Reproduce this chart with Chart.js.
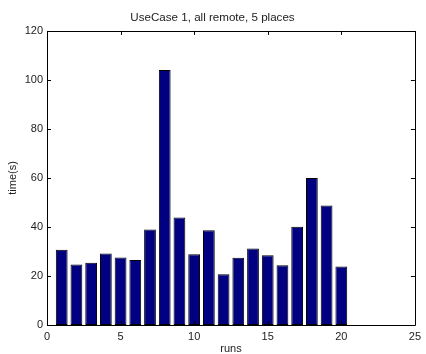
<!DOCTYPE html>
<html>
<head>
<meta charset="utf-8">
<script src="https://cdn.jsdelivr.net/npm/chart.js@4"></script>
<style>
  html, body { margin: 0; padding: 0; background: #fff; }
  #wrap { width: 426px; height: 354px; }
</style>
</head>
<body>
<div id="wrap"><canvas id="runsChart"></canvas></div>
<script>
// runs 1..20 and measured time in seconds
const runs = [1, 2, 3, 4, 5, 6, 7, 8, 9, 10, 11, 12, 13, 14, 15, 16, 17, 18, 19, 20];
const times = [30.7, 24.7, 25.4, 29.2, 27.5, 26.5, 39.0, 104.1, 43.9, 28.9,
               38.7, 20.7, 27.4, 31.2, 28.5, 24.4, 40.1, 60.0, 48.8, 23.9];
const xTicks = [0, 5, 10, 15, 20, 25];
const yTicks = [0, 20, 40, 60, 80, 100, 120];

const fontFamily = '"Liberation Sans", Arial, Helvetica, sans-serif';

// MATLAB-like box with inward tick marks
const boxPlugin = {
    id: 'matlabBox',
    afterDraw(chart) {
        const ctx = chart.ctx;
        const a = chart.chartArea;
        const xs = chart.scales.x;
        const ys = chart.scales.y;
        ctx.save();
        ctx.strokeStyle = '#000';
        ctx.lineWidth = 1;
        ctx.beginPath();
        ctx.rect(Math.round(a.left) + 0.5, Math.round(a.top) + 0.5,
                 Math.round(a.right - a.left), Math.round(a.bottom - a.top));
        const tl = 4;
        xTicks.forEach(v => {
            const px = Math.round(xs.getPixelForValue(v)) + 0.5;
            ctx.moveTo(px, a.bottom); ctx.lineTo(px, a.bottom - tl);
            ctx.moveTo(px, a.top); ctx.lineTo(px, a.top + tl);
        });
        yTicks.forEach(v => {
            const py = Math.round(ys.getPixelForValue(v)) + 0.5;
            ctx.moveTo(a.left, py); ctx.lineTo(a.left + tl, py);
            ctx.moveTo(a.right, py); ctx.lineTo(a.right - tl, py);
        });
        ctx.stroke();
        ctx.restore();
    }
};

const ctx = document.getElementById('runsChart').getContext('2d');
const runsChart = new Chart(ctx, {
    type: 'bar',
    data: {
        datasets: [{
            label: 'time(s)',
            data: runs.map((r, i) => ({ x: r, y: times[i] })),
            backgroundColor: '#000080',
            borderColor: '#000000',
            borderWidth: 1,
            borderSkipped: false,
            barPercentage: 0.8,
            categoryPercentage: 1.0
        }]
    },
    options: {
        responsive: true,
        maintainAspectRatio: false,
        animation: false,
        layout: { padding: { left: 6, right: 7, top: 0, bottom: 0 } },
        plugins: {
            legend: { display: false },
            tooltip: { enabled: false },
            title: {
                display: true,
                text: 'UseCase 1, all remote, 5 places',
                color: '#222',
                font: { family: fontFamily, size: 11.6, weight: 'normal', lineHeight: 1.2 },
                padding: { top: 11, bottom: 6 }
            }
        },
        scales: {
            x: {
                type: 'linear',
                min: 0,
                max: 25,
                offset: false,
                grid: { display: false, drawTicks: false },
                border: { display: false },
                ticks: {
                    stepSize: 5,
                    padding: 5,
                    maxRotation: 0,
                    color: '#222',
                    font: { family: fontFamily, size: 11 }
                },
                title: {
                    display: true,
                    text: 'runs',
                    color: '#222',
                    font: { family: fontFamily, size: 11, lineHeight: 1 },
                    padding: 0
                },
                afterFit: s => { s.height = 29; }
            },
            y: {
                min: 0,
                max: 120,
                grid: { display: false, drawTicks: false },
                border: { display: false },
                ticks: {
                    stepSize: 20,
                    padding: 4,
                    color: '#222',
                    font: { family: fontFamily, size: 11 }
                },
                title: {
                    display: true,
                    text: 'time(s)',
                    color: '#222',
                    font: { family: fontFamily, size: 11 },
                    padding: 0
                },
                afterFit: s => { s.width = 41; }
            }
        }
    },
    plugins: [boxPlugin]
});
</script>
</body>
</html>
